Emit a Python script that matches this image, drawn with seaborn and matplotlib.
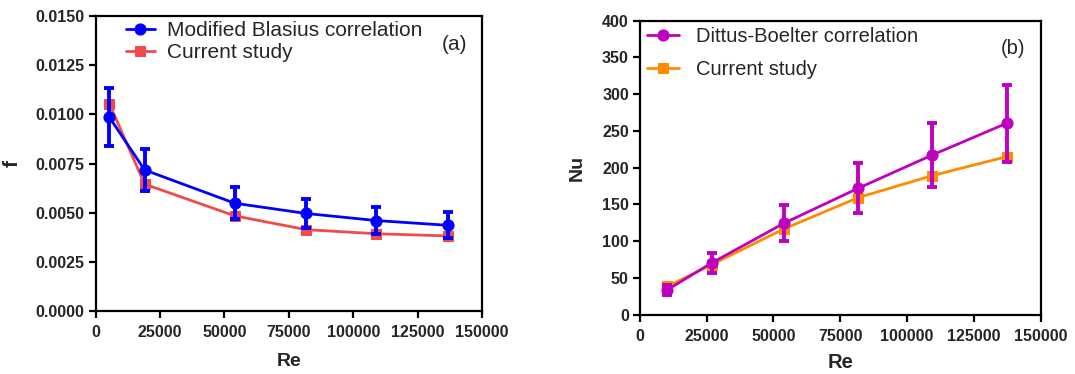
import numpy as np
import pandas as pd
import matplotlib
matplotlib.use("Agg")
import matplotlib.pyplot as plt
from matplotlib.ticker import MultipleLocator, StrMethodFormatter
import seaborn as sns

sns.set_style("ticks")
plt.rcParams['font.family'] = ['Liberation Sans', 'DejaVu Sans']

# ---- Panel (a): friction factor ----
re_a = [5300, 19000, 54000, 81700, 109000, 136600]
f_blasius = [0.00986, 0.00718, 0.00549, 0.00497, 0.00461, 0.00437]
f_blasius_err = [0.00148, 0.00108, 0.00082, 0.00075, 0.00069, 0.00066]
f_current = [0.01055, 0.00646, 0.00485, 0.00415, 0.00394, 0.00383]

# ---- Panel (b): Nusselt number ----
re_b = [10300, 26800, 54000, 81800, 109500, 137300]
nu_dittus = [34.0, 70.3, 124.6, 172.2, 217.4, 260.5]
nu_dittus_err = [6.8, 14.1, 24.9, 34.4, 43.5, 52.1]
nu_current = [38.5, 68.0, 116.9, 159.4, 189.3, 215.0]

xticks = [0, 25000, 50000, 75000, 100000, 125000, 150000]

fig = plt.figure(figsize=(10.75, 3.74), dpi=100)
ax1 = fig.add_axes([0.089, 0.1676, 0.3594, 0.7896])
ax2 = fig.add_axes([0.5953, 0.1586, 0.3727, 0.786])

blue = "#0000FF"
red = "#F24A4A"
purple = "#BF00BF"
orange = "#FF8C00"

# panel a
sns.lineplot(x=re_a, y=f_current, ax=ax1, color=red, marker='s', markersize=7,
             markeredgecolor=red, linewidth=2, label="Current study", zorder=2)
ax1.errorbar(re_a, f_blasius, yerr=f_blasius_err, fmt='none', ecolor=blue,
             elinewidth=2.8, capsize=3.5, capthick=2.8, zorder=3)
sns.lineplot(x=re_a, y=f_blasius, ax=ax1, color=blue, marker='o', markersize=8,
             markeredgecolor=blue, linewidth=2, label="Modified Blasius correlation", zorder=4)

# panel b
sns.lineplot(x=re_b, y=nu_current, ax=ax2, color=orange, marker='s', markersize=7,
             markeredgecolor=orange, linewidth=2, label="Current study", zorder=2)
ax2.errorbar(re_b, nu_dittus, yerr=nu_dittus_err, fmt='none', ecolor=purple,
             elinewidth=2.8, capsize=3.5, capthick=2.8, zorder=3)
sns.lineplot(x=re_b, y=nu_dittus, ax=ax2, color=purple, marker='o', markersize=8,
             markeredgecolor=purple, linewidth=2, label="Dittus-Boelter correlation", zorder=4)

for ax in (ax1, ax2):
    ax.set_xlim(0, 150000)
    ax.set_xticks(xticks)
    ax.xaxis.set_major_formatter(StrMethodFormatter('{x:.0f}'))
    for sp in ax.spines.values():
        sp.set_linewidth(1.6)
        sp.set_color('black')
    ax.tick_params(axis='both', direction='out', length=5, width=1.6,
                   labelsize=11.5, color='black', pad=3)
    ax.tick_params(axis='x', pad=5)

ax1.set_ylim(0, 0.015)
ax1.yaxis.set_major_locator(MultipleLocator(0.0025))
ax1.yaxis.set_major_formatter(StrMethodFormatter('{x:.4f}'))
ax1.set_ylabel("f", fontsize=15, fontweight='bold', labelpad=10)
ax1.set_xlabel("Re", fontsize=14, fontweight='bold', labelpad=9)

ax2.set_ylim(0, 400)
ax2.yaxis.set_major_locator(MultipleLocator(50))
ax2.set_ylabel("Nu", fontsize=14, fontweight='bold', labelpad=12)
ax2.set_xlabel("Re", fontsize=14.5, fontweight='bold', labelpad=7)

for ax in (ax1, ax2):
    for lab in ax.get_xticklabels() + ax.get_yticklabels():
        lab.set_fontweight('bold')

# legends: correlation first
h, l = ax1.get_legend_handles_labels()
order = [l.index("Modified Blasius correlation"), l.index("Current study")]
ax1.legend([h[i] for i in order], [l[i] for i in order], loc='upper left',
           bbox_to_anchor=(0.045, 1.025), frameon=False, fontsize=15,
           handlelength=1.4, handletextpad=0.6, labelspacing=0.15, borderaxespad=0.2)
h, l = ax2.get_legend_handles_labels()
order = [l.index("Dittus-Boelter correlation"), l.index("Current study")]
ax2.legend([h[i] for i in order], [l[i] for i in order], loc='upper left',
           bbox_to_anchor=(-0.012, 1.02), frameon=False, fontsize=14.5,
           handlelength=1.6, handletextpad=0.8, labelspacing=0.7, borderaxespad=0.2)

ax1.text(0.93, 0.905, "(a)", transform=ax1.transAxes, fontsize=15,
         ha='center', va='center')
ax2.text(0.93, 0.905, "(b)", transform=ax2.transAxes, fontsize=14.5,
         ha='center', va='center')

fig.savefig("out.png", dpi=100)
